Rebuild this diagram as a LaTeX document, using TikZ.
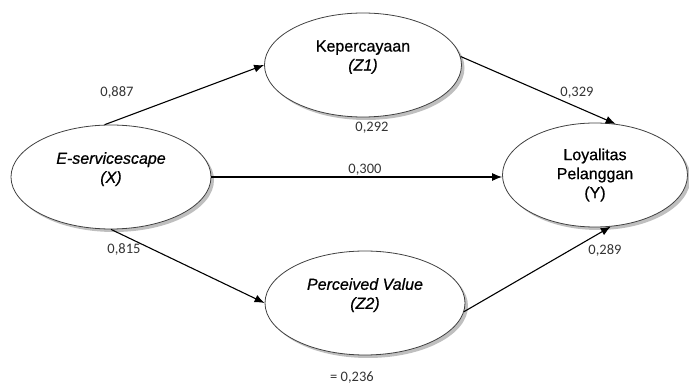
\documentclass[tikz,border=0pt]{standalone}
\usepackage{fontspec}
\setmainfont{Liberation Sans}
\newfontfamily\latfont{Liberation Sans}[FakeBold=0.7]
\newfontfamily\coeffont{Carlito}
\usetikzlibrary{arrows.meta,shapes.geometric,shadows}

\begin{document}
\begin{tikzpicture}[x=1pt,y=-1pt,line width=1.1pt,
    latent/.style={ellipse,draw=black!75,line width=0.8pt,fill=white,
        minimum width=200pt,minimum height=104pt,inner sep=0pt,align=center,
        font=\latfont\fontsize{16}{19}\selectfont,
        drop shadow={shadow xshift=3pt,shadow yshift=-3pt,fill=black!50}},
    coef/.style={font=\coeffont\fontsize{14.5}{16}\selectfont,text=black!80,inner sep=0pt},
    >={Latex[length=10pt,width=8pt]}]
    \useasboundingbox (0,0) rectangle (689,390);

    \node[latent]  (X)  at (111,177)                      {\textit{E-servicescape}\\\textit{(X)}\\\mbox{}};
    \node[latent]  (Z1) at (363,65)  [minimum width=197pt] {Kepercayaan\\\textit{(Z1)}\\\mbox{}};
    \node[latent]  (Z2) at (365,303)                      {\textit{Perceived Value}\\\textit{(Z2)}\\\mbox{}};
    \node[latent]  (Y)  at (595,175) [minimum width=185pt] {Loyalitas\\Pelanggan\\(Y)};

    \node[coef]    (c887) at (117,92)  {0,887};
    \node[coef]    (c329) at (577,93)  {0,329};
    \node[coef]    (c292) at (372,128) {0,292};
    \node[coef]    (c300) at (365,170) {0,300};
    \node[coef]    (c815) at (124,249) {0,815};
    \node[coef]    (c289) at (605,250) {0,289};
    \node[coef]    (c236) at (352,378) {= 0,236};

    \path[->]   (X.97)    edge  (Z1.west)
                (Z1.5)    edge  (Y.68)
                (X.east)  edge  (X.east -| Y.west)
                (X.south) edge  (Z2.west)
                (Z2.-5)   edge  (Y.-73)
                ;
\end{tikzpicture}
\end{document}
